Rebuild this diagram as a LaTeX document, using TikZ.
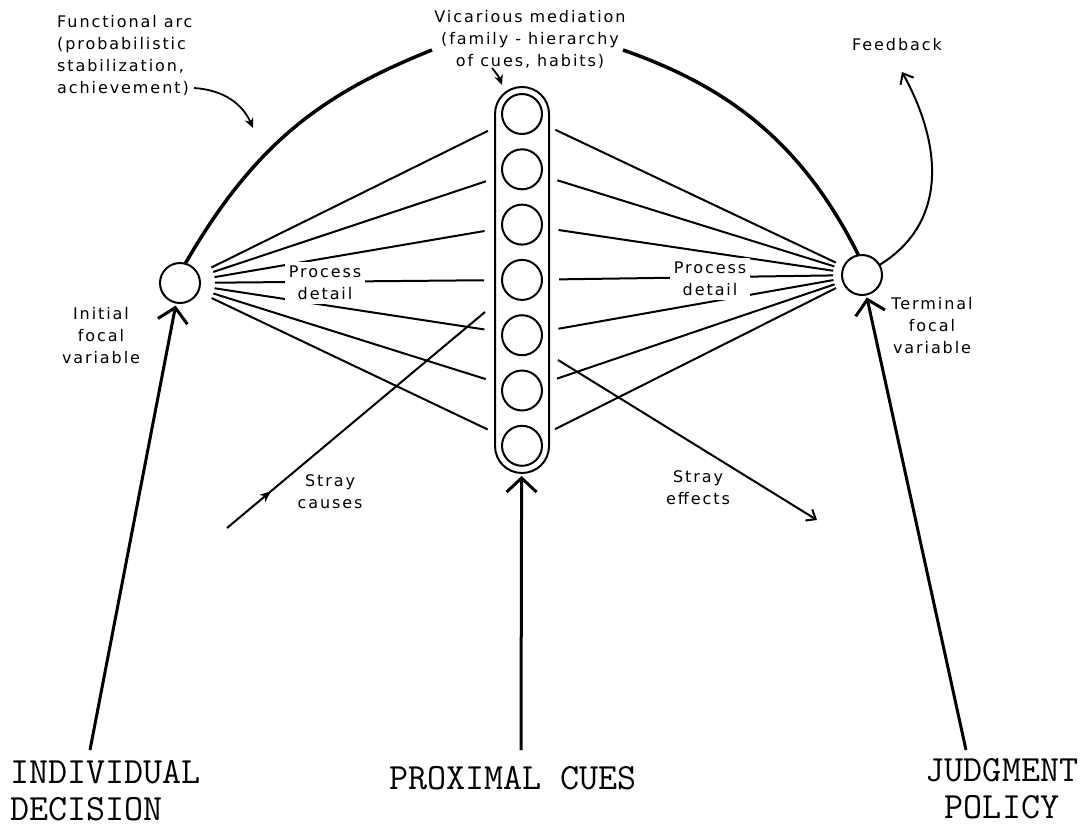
\documentclass[tikz,border=0pt]{standalone}
\usepackage{fontspec}
\usetikzlibrary{arrows.meta,decorations.markings}
\newfontfamily\lblfont[LetterSpace=12]{DejaVu Sans}

\begin{document}
\begin{tikzpicture}
[x=10pt,y=-10pt,
cue/.style={circle,draw=black,line width=2pt,inner sep=0pt,outer sep=0pt,minimum size=40pt},
focal/.style={circle,draw=black,line width=2pt,inner sep=0pt,outer sep=0pt,minimum size=40pt},
capsule/.style={rectangle,draw=black,line width=2pt,rounded corners=26.9pt,inner sep=0pt,outer sep=0pt,minimum width=54pt,minimum height=386pt},
lbl/.style={font=\lblfont\fontsize{16}{22}\selectfont,align=center,inner sep=0pt},
gap/.style={lbl,fill=white,inner sep=4pt},
captext/.style={font=\ttfamily\fontsize{37}{37}\selectfont,align=left,inner sep=0pt},
fan/.style={line width=2pt},
arcline/.style={line width=3.5pt},
lblarrow/.style={line width=1.8pt,-{Stealth[length=10pt,width=9pt]}},
bigarrow/.style={line width=3pt,shorten >=3pt,-{Straight Barb[length=14pt,width=30pt]}}]
\useasboundingbox (0,0) rectangle (108.4,83.3);
\node[focal] at (18.0,28.3) (ic) {};
\node[focal] at (86.2,27.5) (tc) {};
\node[capsule] at (52.2,28.0) (col) {};
\foreach \i in {1,...,7}
  \node[cue] at (52.2,{5.87+5.53*\i}) (c\i) {};
\foreach \i in {1,...,7} {
  \draw[fan,shorten <=15pt,shorten >=18pt] (ic) -- (c\i);
  \draw[fan,shorten <=17pt,shorten >=9pt] (c\i) -- (tc);
}
\node[gap] at (32.5,28.3) (pd1) {Process\\detail};
\node[gap] at (71.0,27.9) (pd2) {Process\\detail};
\coordinate (a1) at (43.2,5.0);
\coordinate (a2) at (62.3,5.0);
\draw[arcline] (ic.75) .. controls (25.5,14.3) and (32.2,9.4) .. (a1);
\draw[arcline] (a2) .. controls (72.3,8.5) and (80.0,13.8) .. (tc.100);
\node[lbl,align=left,anchor=west] at (5.7,5.5) (fa) {Functional arc\\(probabilistic\\stabilization,\\achievement)};
\coordinate (fa1) at (19.4,8.8);
\coordinate (fa2) at (25.3,12.8);
\draw[lblarrow] (fa1) .. controls (22.5,9.0) and (24.3,10.5) .. (fa2);
\node[lbl] at (53.0,3.9) (vm) {Vicarious mediation\\(family - hierarchy\\of cues, habits)};
\coordinate (vm1) at (49.2,6.8);
\coordinate (vm2) at (50.2,8.5);
\draw[lblarrow] (vm1) to[bend left=10] (vm2);
\node[lbl] at (89.7,4.5) (fb) {Feedback};
\coordinate (fbt) at (90.2,7.2);
\draw[fan,-{Straight Barb[length=9pt,width=15pt]}] (tc.30) .. controls (94.5,22.5) and (94.5,15.0) .. (fbt);
\node[lbl] at (10.1,33.6) (ifv) {Initial\\focal\\variable};
\node[lbl] at (93.2,32.6) (tfv) {Terminal\\focal\\variable};
\coordinate (sc0) at (22.7,52.8);
\coordinate (sc1) at (48.5,31.2);
\draw[fan,postaction={decorate},decoration={markings,mark=at position 0.17 with {\arrow{Stealth[length=11pt,width=9pt]}}}] (sc0) -- (sc1);
\node[lbl] at (33.0,49.2) (scl) {Stray\\causes};
\coordinate (se0) at (55.8,36.0);
\coordinate (se1) at (81.7,52.0);
\draw[fan,-{Straight Barb[length=8pt,width=13pt]}] (se0) -- (se1);
\node[lbl] at (69.8,48.8) (sel) {Stray\\effects};
\coordinate (b1) at (9.0,75.0);
\coordinate (b2) at (52.1,75.0);
\coordinate (b3) at (96.6,75.0);
\draw[bigarrow] (b1) -- (ic);
\draw[bigarrow] (b2) -- (col);
\draw[bigarrow] (b3) -- (tc);
\node[captext,anchor=north west] at (1.0,76.0) (idn) {INDIVIDUAL\\DECISION};
\node[captext,anchor=north] at (51.3,76.6) (pc) {PROXIMAL CUES};
\node[captext,align=center,anchor=north] at (100.2,75.8) (jp) {JUDGMENT\\POLICY};
\end{tikzpicture}
\end{document}
